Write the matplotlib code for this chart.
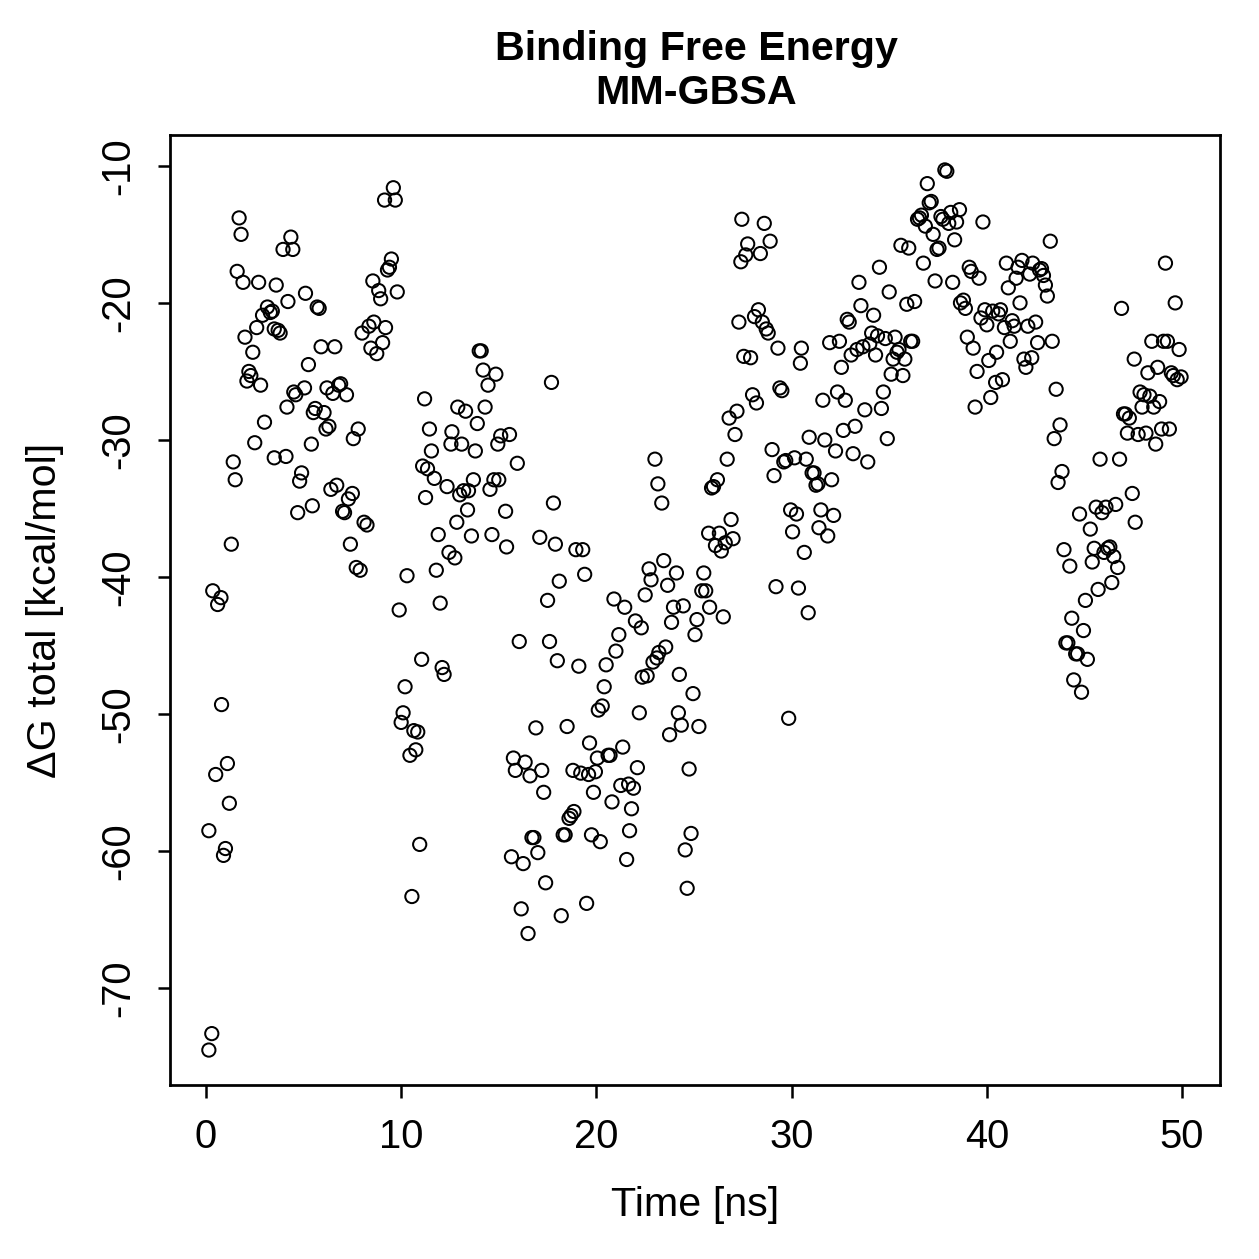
import matplotlib
matplotlib.use('Agg')
import matplotlib.pyplot as plt

plt.rcParams['font.family'] = ['Liberation Sans', 'DejaVu Sans']

# time [ns]
time_ns = [
    0.15, 0.3, 0.15, 0.35, 0.6, 0.77, 0.5, 0.8, 0.9, 1.0, 1.1, 1.2, 1.3, 1.4, 1.5, 1.6, 1.7, 1.8, 1.9, 2.0,
    2.1, 2.2, 2.3, 2.4, 2.5, 2.6, 2.7, 2.8, 2.9, 3.0, 3.15, 3.3, 3.4, 3.5, 3.6, 3.5, 3.7, 3.8, 3.95, 4.1,
    4.15, 4.2, 4.35, 4.45, 4.5, 4.6, 4.7, 4.8, 4.9, 5.05, 5.1, 5.25, 5.4, 5.45, 5.5, 5.6, 5.7, 5.8, 5.9, 6.05,
    6.15, 6.2, 6.3, 6.4, 6.5, 6.6, 6.7, 6.8, 6.9, 7.0, 7.1, 7.2, 7.3, 7.4, 7.5, 7.55, 7.7, 7.8, 7.9, 8.0,
    8.1, 8.25, 8.35, 8.45, 8.55, 8.6, 8.75, 8.85, 8.95, 9.05, 9.15, 9.2, 9.3, 9.4, 9.5, 9.6, 9.7, 9.8, 9.9, 10.0,
    10.1, 10.2, 10.3, 10.45, 10.55, 10.65, 10.75, 10.85, 10.95, 11.05, 11.1, 11.2, 11.25, 11.35, 11.45, 11.55, 11.7, 11.8, 11.9, 12.0,
    12.1, 12.2, 12.35, 12.45, 12.55, 12.6, 12.75, 12.85, 12.9, 13.0, 13.1, 13.2, 13.3, 13.4, 13.45, 13.6, 13.7, 13.8, 13.9, 14.0,
    14.1, 14.2, 14.3, 14.45, 14.55, 14.65, 14.75, 14.85, 14.95, 15.0, 15.1, 15.35, 15.4, 15.55, 15.65, 15.75, 15.85, 15.95, 16.05, 16.15,
    16.25, 16.35, 16.5, 16.6, 16.7, 16.8, 16.9, 17.0, 17.1, 17.2, 17.3, 17.4, 17.5, 17.6, 17.7, 17.8, 17.9, 18.0, 18.1, 18.2,
    18.3, 18.4, 18.5, 18.6, 18.7, 18.8, 18.85, 18.95, 19.1, 19.2, 19.3, 19.4, 19.5, 19.6, 19.65, 19.75, 19.85, 19.95, 20.05, 20.1,
    20.2, 20.3, 20.4, 20.5, 20.6, 20.7, 20.8, 20.9, 21.0, 21.15, 21.25, 21.35, 21.45, 21.55, 21.65, 21.7, 21.8, 21.9, 22.0, 22.1,
    22.2, 22.3, 22.35, 22.5, 22.6, 22.7, 22.8, 22.9, 23.0, 23.1, 23.15, 23.2, 23.35, 23.45, 23.55, 23.65, 23.75, 23.85, 23.95, 24.1,
    24.2, 24.25, 24.35, 24.45, 24.55, 24.65, 24.75, 24.85, 24.95, 25.05, 25.15, 25.25, 25.4, 25.5, 25.6, 25.75, 25.8, 25.9, 26.0, 26.1,
    26.2, 26.3, 26.4, 26.5, 26.6, 26.7, 26.8, 26.9, 27.0, 27.1, 27.2, 27.3, 27.4, 27.45, 27.55, 27.65, 27.75, 27.9, 28.0, 28.1,
    28.2, 28.3, 28.4, 28.5, 28.6, 28.7, 28.8, 28.9, 29.0, 29.1, 29.2, 29.3, 29.4, 29.5, 29.6, 29.7, 29.85, 29.95, 30.05, 30.15,
    30.25, 30.35, 30.45, 30.5, 30.65, 30.75, 30.85, 30.9, 31.05, 31.15, 31.25, 31.35, 31.4, 31.5, 31.6, 31.7, 31.85, 31.95, 32.05, 32.15,
    32.25, 32.35, 32.45, 32.55, 32.65, 32.75, 32.85, 32.95, 33.05, 33.15, 33.25, 33.35, 33.45, 33.55, 33.65, 33.75, 33.9, 34.0, 34.1, 34.2,
    34.3, 34.4, 34.5, 34.6, 34.7, 34.8, 34.9, 35.0, 35.1, 35.2, 35.3, 35.4, 35.5, 35.6, 35.7, 35.8, 35.9, 36.0, 36.1, 36.2,
    36.3, 36.45, 36.55, 36.65, 36.75, 36.85, 36.95, 37.05, 37.15, 37.25, 37.35, 37.45, 37.55, 37.65, 37.75, 37.85, 37.95, 38.05, 38.15, 38.25,
    38.35, 38.45, 38.6, 38.65, 38.8, 38.9, 39.0, 39.1, 39.2, 39.3, 39.4, 39.5, 39.6, 39.7, 39.8, 39.9, 40.0, 40.1, 40.2, 40.3,
    40.45, 40.5, 40.6, 40.7, 40.8, 40.9, 41.0, 41.1, 41.2, 41.3, 41.4, 41.5, 41.6, 41.7, 41.8, 41.9, 42.0, 42.1, 42.2, 42.3,
    42.35, 42.5, 42.6, 42.7, 42.8, 42.9, 43.0, 43.1, 43.25, 43.35, 43.45, 43.55, 43.65, 43.75, 43.85, 43.95, 44.05, 44.15, 44.25, 44.35,
    44.45, 44.55, 44.65, 44.75, 44.85, 44.95, 45.05, 45.15, 45.3, 45.4, 45.5, 45.6, 45.7, 45.8, 45.9, 46.0, 46.1, 46.2, 46.3, 46.4,
    46.5, 46.6, 46.7, 46.8, 46.9, 47.0, 47.1, 47.2, 47.3, 47.45, 47.55, 47.6, 47.75, 47.85, 47.95, 48.05, 48.15, 48.25, 48.35, 48.45,
    48.55, 48.65, 48.75, 48.85, 48.95, 49.05, 49.15, 49.25, 49.35, 49.45, 49.55, 49.65, 49.75, 49.85, 49.95,
]

# delta G total [kcal/mol]
dg_total = [
    -74.5, -73.3, -58.5, -41.0, -42.0, -41.5, -54.4, -49.3, -60.3, -59.8, -53.6, -56.5, -37.6, -31.6, -32.9, -17.7, -13.8, -15.0, -18.5, -22.5,
    -25.7, -25.0, -25.3, -23.6, -30.2, -21.8, -18.5, -26.0, -20.9, -28.7, -20.3, -20.7, -20.6, -21.9, -18.7, -31.3, -22.0, -22.2, -16.1, -31.2,
    -27.6, -19.9, -15.2, -16.1, -26.5, -26.7, -35.3, -33.0, -32.4, -26.2, -19.3, -24.5, -30.3, -34.8, -28.0, -27.7, -20.3, -20.4, -23.2, -28.0,
    -29.2, -26.2, -29.0, -33.6, -26.6, -23.2, -33.3, -26.0, -25.9, -35.2, -35.3, -26.7, -34.3, -37.6, -33.9, -29.9, -39.3, -29.2, -39.5, -22.2,
    -36.0, -36.2, -21.7, -23.3, -18.4, -21.4, -23.7, -19.1, -19.7, -22.9, -12.5, -21.8, -17.6, -17.4, -16.8, -11.6, -12.5, -19.2, -42.4, -50.6,
    -49.9, -48.0, -39.9, -53.0, -63.3, -51.2, -52.6, -51.3, -59.5, -46.0, -31.9, -27.0, -34.2, -32.1, -29.2, -30.8, -32.8, -39.5, -36.9, -41.9,
    -46.6, -47.1, -33.4, -38.2, -30.3, -29.4, -38.6, -36.0, -27.6, -34.0, -30.3, -33.7, -27.9, -35.1, -33.7, -37.0, -32.9, -30.8, -28.8, -23.5,
    -23.5, -24.9, -27.6, -26.0, -33.6, -36.9, -32.9, -25.2, -30.3, -32.9, -29.7, -35.2, -37.8, -29.6, -60.4, -53.2, -54.1, -31.7, -44.7, -64.2,
    -60.9, -53.5, -66.0, -54.5, -59.0, -59.0, -51.0, -60.1, -37.1, -54.1, -55.7, -62.3, -41.7, -44.7, -25.8, -34.6, -37.6, -46.1, -40.3, -64.7,
    -58.8, -58.8, -50.9, -57.6, -57.4, -54.1, -57.1, -38.0, -46.5, -54.3, -38.0, -39.8, -63.8, -54.4, -52.1, -58.8, -55.7, -54.2, -53.2, -49.7,
    -59.3, -49.4, -48.0, -46.4, -53.0, -53.0, -56.4, -41.6, -45.4, -44.2, -55.2, -52.4, -42.2, -60.6, -55.1, -58.5, -56.9, -55.4, -43.2, -53.9,
    -49.9, -43.7, -47.3, -41.3, -47.2, -39.4, -40.2, -46.2, -31.4, -45.9, -33.2, -45.5, -34.6, -38.8, -45.1, -40.6, -51.5, -43.3, -42.2, -39.7,
    -49.9, -47.1, -50.8, -42.1, -59.9, -62.7, -54.0, -58.7, -48.5, -44.2, -43.1, -50.9, -41.0, -39.7, -41.0, -36.8, -42.2, -33.5, -33.4, -37.7,
    -32.9, -36.8, -38.1, -42.9, -37.5, -31.4, -28.4, -35.8, -37.2, -29.6, -27.9, -21.4, -17.0, -13.9, -23.9, -16.5, -15.7, -24.0, -26.7, -21.0,
    -27.3, -20.5, -16.4, -21.4, -14.2, -21.9, -22.2, -15.5, -30.7, -32.6, -40.7, -23.3, -26.2, -26.4, -31.6, -31.5, -50.3, -35.1, -36.7, -31.3,
    -35.4, -40.8, -24.4, -23.3, -38.2, -31.4, -42.6, -29.8, -32.4, -32.4, -33.3, -33.2, -36.4, -35.1, -27.1, -30.0, -37.0, -22.9, -32.9, -35.5,
    -30.8, -26.5, -22.8, -24.7, -29.3, -27.1, -21.2, -21.4, -23.8, -31.0, -29.0, -23.4, -18.5, -20.2, -23.2, -27.8, -31.6, -23.0, -22.2, -20.9,
    -23.8, -22.4, -17.4, -27.7, -26.5, -22.6, -29.9, -19.2, -25.2, -24.1, -22.5, -23.6, -23.4, -15.8, -25.3, -24.1, -20.1, -16.0, -22.8, -22.8,
    -19.9, -13.9, -13.8, -13.6, -17.1, -14.4, -11.3, -12.7, -12.6, -15.0, -18.4, -16.1, -16.0, -13.7, -13.9, -10.3, -10.4, -14.2, -13.4, -18.5,
    -15.4, -14.1, -13.2, -20.0, -19.8, -20.4, -22.5, -17.4, -17.7, -23.3, -27.6, -25.0, -18.2, -21.1, -14.1, -20.5, -21.6, -24.2, -26.9, -20.6,
    -25.8, -23.6, -20.8, -20.5, -25.6, -21.8, -17.1, -18.9, -22.8, -21.3, -21.7, -18.2, -17.4, -20.0, -16.9, -24.1, -24.7, -21.7, -17.9, -24.0,
    -17.1, -21.4, -22.9, -17.6, -17.5, -18.0, -18.7, -19.5, -15.5, -22.8, -29.9, -26.3, -33.1, -28.9, -32.3, -38.0, -44.8, -44.8, -39.2, -43.0,
    -47.5, -45.6, -45.6, -35.4, -48.4, -43.9, -41.7, -46.0, -36.5, -38.9, -37.9, -34.9, -40.9, -31.4, -35.3, -38.2, -34.9, -37.9, -37.8, -40.4,
    -38.5, -34.7, -39.3, -31.4, -20.4, -28.1, -28.1, -29.5, -28.4, -33.9, -24.1, -36.0, -29.6, -26.5, -27.6, -26.7, -29.5, -25.1, -26.8, -22.8,
    -27.6, -30.3, -24.7, -27.2, -29.2, -22.8, -17.1, -22.8, -29.2, -25.1, -25.3, -20.0, -25.6, -23.4, -25.4,
]

x_ticks = [0, 10, 20, 30, 40, 50]
y_ticks = [-70, -60, -50, -40, -30, -20, -10]

fig = plt.figure(figsize=(1259 / 180, 1259 / 180), dpi=180)
ax = fig.add_axes([0.135, 0.138, 0.834, 0.755])

ax.scatter(time_ns, dg_total, s=28, facecolors='none', edgecolors='black', linewidths=0.8)

xr = max(time_ns) - min(time_ns)
yr = max(dg_total) - min(dg_total)
ax.set_xlim(min(time_ns) - 0.04 * xr, max(time_ns) + 0.04 * xr)
ax.set_ylim(min(dg_total) - 0.04 * yr, max(dg_total) + 0.04 * yr)

ax.set_xticks(x_ticks)
ax.set_yticks(y_ticks)
ax.set_xticklabels([str(v) for v in x_ticks])
ax.set_yticklabels([str(v) for v in y_ticks], rotation=90, va='center')
ax.tick_params(direction='out', length=5, width=1, labelsize=16, pad=8)

for sp in ax.spines.values():
    sp.set_linewidth(1.1)

ax.set_xlabel('Time [ns]', fontsize=16.5, labelpad=12)
ax.set_ylabel('\u0394G total [kcal/mol]', fontsize=16.5, labelpad=14)
fig.text(0.553, 0.944, 'Binding Free Energy\nMM-GBSA', ha='center', va='center',
         fontsize=16.5, fontweight='bold', linespacing=1.2)

fig.savefig('out.png', dpi=180)
